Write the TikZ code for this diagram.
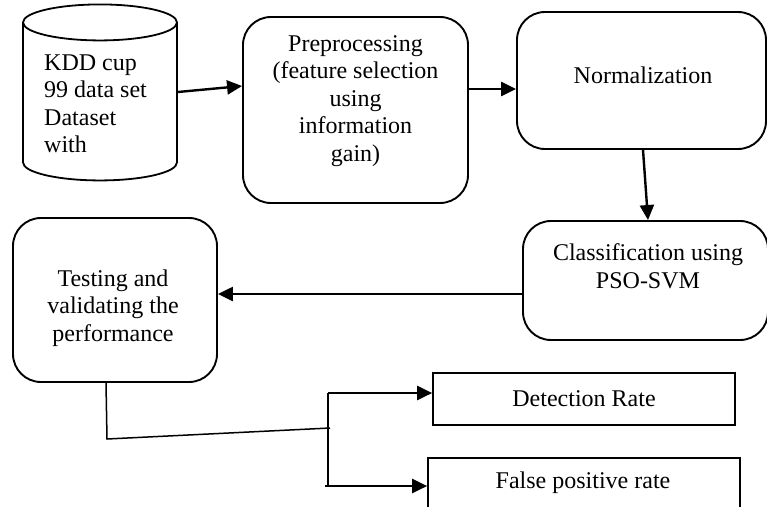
\documentclass[tikz,border=0pt]{standalone}
\usepackage{fontspec}
\setmainfont{Liberation Serif}
\usepackage{tikz}
\usetikzlibrary{shapes.geometric, positioning, arrows.meta}

\begin{document}
\begin{tikzpicture}[x=1pt, y=-1pt, font=\fontsize{24}{27.5}\selectfont]
	\tikzstyle{stage}=[rectangle, draw=black, line width=1.9pt, rounded corners=28pt]
	\tikzstyle{result}=[rectangle, draw=black, line width=1.7pt]
	\tikzstyle{database}=[cylinder, shape border rotate=90, draw=black, line width=1.8pt, aspect=5.4]
	\tikzstyle{boxtext}=[align=center, inner sep=0pt]
	\tikzstyle{flow}=[-{Triangle[length=15pt, width=14pt]}, line width=2.4pt]
	\tikzstyle{link}=[line width=1.5pt]

	\useasboundingbox (0,0) rectangle (767,506);

	% Data source
	\node[database, minimum width=154pt, minimum height=176pt] (kdd) at (100, 104.5) {};
	\node[boxtext, align=left, anchor=west] (kdd-text) at (44, 104) {KDD cup\\99 data set\\Dataset\\with};

	% Processing stages
	\node[stage, minimum width=225pt, minimum height=186pt] (prep) at (355.5, 110) {};
	\node[boxtext] (prep-text) at (355.5, 101) {Preprocessing\\(feature selection\\using\\information\\gain)};

	\node[stage, minimum width=249pt, minimum height=137pt] (norm) at (641.5, 80.5) {};
	\node[boxtext] (norm-text) at (643, 75) {Normalization};

	\node[stage, minimum width=245pt, minimum height=119pt] (cls) at (645.5, 280.5) {};
	\node[boxtext] (cls-text) at (648, 266) {Classification using\\PSO-SVM};

	\node[stage, minimum width=204pt, minimum height=164pt] (test) at (115, 300) {};
	\node[boxtext] (test-text) at (113, 308) {Testing and\\validating the\\performance};

	% Measures
	\node[result, minimum width=302pt, minimum height=52pt] (det) at (584, 399) {};
	\node[boxtext] (det-text) at (584, 399) {Detection Rate};

	\node[result, minimum width=312pt, minimum height=58pt] (fpr) at (584, 487) {};
	\node[boxtext] (fpr-text) at (583, 483) {False positive rate};

	% Connect the stages
	\draw[flow] ([yshift=12.5pt]kdd.east) -- ([yshift=24pt]prep.west);
	\draw[flow] ([yshift=21pt]prep.east) -- ([yshift=-8.5pt]norm.west);
	\draw[flow] ([xshift=1.5pt]norm.south) -- ([xshift=2.5pt]cls.north);
	\draw[flow] ([yshift=-13.5pt]cls.west) -- ([yshift=6pt]test.east);

	% Split towards the measures
	\coordinate (bend) at (107, 439);
	\coordinate (split) at (330, 428);
	\coordinate (upper) at (328, 393);
	\coordinate (lower) at (328, 486);
	\draw[link] ([xshift=-9pt]test.south) -- (bend) -- (split);
	\draw[link] (upper) -- (lower);
	\draw[flow] (upper) -- (upper -| det.west);
	\draw[flow] ([xshift=-3pt]lower) -- (lower -| fpr.west);
\end{tikzpicture}
\end{document}
